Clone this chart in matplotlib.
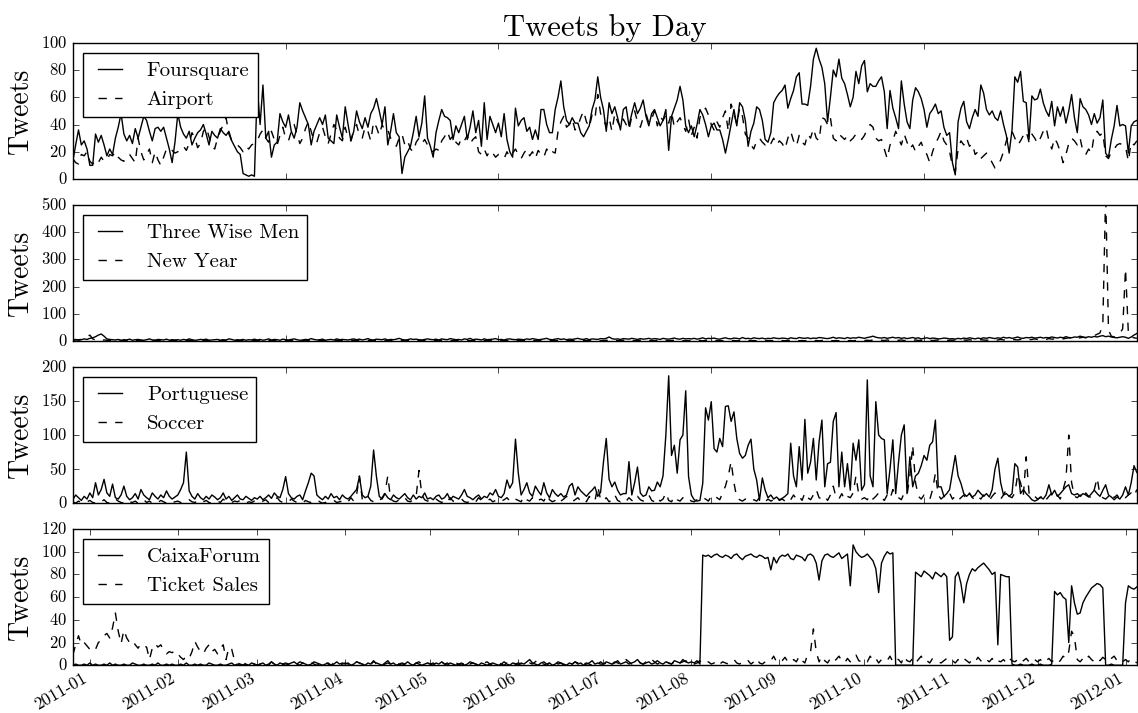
import numpy as np
import pandas as pd
import matplotlib
matplotlib.use("Agg")
import matplotlib.pyplot as plt
import matplotlib.dates as mdates

# daily counts from 2010-12-26 to 2012-01-05, one row per month
start_day = "2010-12-26"

foursquare = [
    13, 25, 36, 25, 28, 22,
    10, 10, 33, 27, 32, 25, 17, 22, 18, 30, 38, 48, 33, 28, 32, 26, 37, 30, 38, 46, 43, 35, 28, 37, 38, 35, 38, 30, 22, 12, 27,
    48, 38, 33, 30, 35, 25, 30, 34, 36, 40, 33, 25, 35, 32, 30, 37, 34, 32, 35, 28, 24, 20, 18, 4, 3, 2, 3, 2,
    67, 40, 69, 30, 35, 16, 25, 27, 48, 42, 38, 47, 35, 30, 38, 56, 50, 45, 40, 25, 35, 40, 45, 40, 47, 30, 28, 26, 47, 38, 30,
    53, 40, 28, 35, 50, 42, 37, 45, 38, 48, 52, 59, 50, 40, 53, 25, 35, 48, 34, 31, 4, 16, 20, 24, 34, 46, 31, 41, 61, 30,
    24, 16, 34, 43, 51, 46, 45, 43, 29, 39, 34, 40, 46, 29, 38, 50, 34, 43, 24, 56, 29, 46, 40, 34, 41, 31, 48, 29, 20, 16, 52,
    39, 43, 45, 35, 38, 29, 36, 29, 51, 51, 40, 34, 34, 51, 60, 72, 53, 43, 40, 45, 41, 41, 34, 31, 35, 39, 51, 58, 75, 60,
    51, 35, 56, 48, 53, 45, 36, 51, 53, 39, 48, 56, 48, 52, 58, 46, 39, 48, 51, 45, 39, 43, 51, 21, 46, 52, 58, 68, 58, 39, 34,
    39, 31, 40, 51, 47, 40, 31, 39, 41, 36, 36, 29, 19, 29, 40, 51, 39, 56, 53, 43, 24, 35, 41, 53, 51, 43, 29, 27, 34, 56, 60,
    63, 65, 69, 52, 59, 65, 75, 78, 55, 55, 54, 68, 88, 96, 88, 82, 70, 42, 60, 80, 75, 88, 74, 70, 62, 53, 60, 79, 70, 83,
    87, 64, 70, 68, 68, 72, 75, 64, 37, 65, 52, 45, 37, 72, 55, 42, 37, 58, 67, 64, 59, 51, 38, 48, 51, 55, 48, 50, 38, 32, 34,
    12, 3, 42, 52, 57, 42, 37, 45, 51, 46, 69, 63, 51, 47, 50, 45, 43, 50, 40, 32, 19, 36, 75, 71, 79, 57, 56, 29, 61, 58,
    59, 66, 56, 50, 46, 57, 39, 53, 46, 53, 41, 50, 62, 45, 34, 59, 53, 51, 47, 40, 48, 41, 45, 58, 19, 16, 29, 39, 54, 39, 40,
    39, 19, 39, 42, 43,
]

airport = [
    15, 12, 11, 18, 17, 20,
    13, 11, 14, 12, 16, 13, 14, 18, 17, 20, 16, 14, 13, 17, 18, 15, 12, 30, 20, 14, 18, 22, 12, 20, 14, 10, 16, 22, 20, 21, 19,
    20, 22, 24, 21, 26, 34, 30, 23, 26, 35, 38, 31, 24, 22, 30, 35, 40, 45, 33, 28, 27, 25, 23, 20, 24, 22, 25, 26,
    28, 33, 36, 30, 27, 35, 29, 25, 32, 38, 30, 28, 35, 40, 33, 26, 30, 37, 42, 35, 28, 27, 34, 38, 31, 26, 33, 40, 36, 30, 28,
    38, 30, 28, 36, 40, 32, 30, 38, 35, 28, 42, 38, 32, 40, 35, 36, 30, 27, 24, 30, 33, 25, 28, 22, 20, 27, 30, 26, 29, 25,
    21, 20, 22, 21, 28, 31, 35, 29, 32, 27, 25, 30, 28, 32, 26, 29, 31, 20, 18, 22, 17, 21, 19, 16, 18, 17, 15, 20, 16, 19, 22,
    18, 15, 19, 22, 17, 20, 15, 21, 18, 16, 22, 18, 20, 19, 35, 42, 46, 38, 40, 44, 36, 39, 45, 50, 42, 38, 47, 44, 62, 48,
    43, 39, 45, 35, 48, 42, 38, 44, 40, 36, 46, 50, 42, 38, 45, 48, 41, 44, 50, 39, 46, 43, 47, 41, 49, 38, 42, 45, 40, 35, 44,
    32, 38, 30, 45, 50, 52, 47, 40, 36, 42, 38, 45, 50, 35, 55, 48, 40, 52, 46, 33, 30, 25, 22, 28, 30, 27, 25, 28, 26, 30, 25,
    28, 26, 22, 30, 35, 28, 24, 32, 27, 25, 33, 30, 37, 30, 28, 45, 44, 40, 45, 30, 28, 33, 31, 29, 32, 28, 30, 33, 31, 29,
    32, 37, 40, 38, 30, 28, 29, 22, 15, 25, 28, 35, 30, 25, 33, 27, 22, 25, 20, 24, 27, 21, 18, 12, 20, 26, 30, 35, 28, 25, 20,
    10, 5, 22, 28, 25, 30, 24, 26, 18, 20, 15, 17, 19, 16, 12, 8, 10, 14, 20, 28, 33, 35, 30, 25, 28, 32, 35, 27, 33, 30,
    26, 30, 35, 38, 28, 22, 30, 26, 20, 12, 18, 26, 30, 28, 25, 30, 20, 18, 22, 19, 33, 35, 32, 34, 17, 15, 20, 22, 25, 26, 25,
    24, 13, 27, 25, 28,
]

wise_men = [
    4, 6, 3, 5, 8, 6,
    10, 12, 16, 22, 26, 18, 8, 6, 5, 4, 6, 3, 5, 4, 7, 3, 5, 6, 4, 3, 5, 8, 4, 3, 6, 5, 4, 7, 3, 5, 4,
    5, 3, 6, 4, 8, 5, 3, 4, 6, 5, 7, 3, 4, 5, 6, 3, 5, 4, 8, 6, 3, 5, 4, 6, 3, 5, 4, 7,
    4, 6, 3, 5, 8, 4, 6, 5, 3, 7, 5, 4, 6, 8, 5, 3, 4, 6, 5, 9, 6, 4, 5, 7, 3, 5, 6, 4, 8, 5, 6,
    5, 4, 6, 8, 5, 7, 4, 6, 9, 5, 4, 7, 6, 5, 8, 4, 6, 5, 7, 10, 6, 4, 5, 8, 6, 7, 5, 4, 6, 8,
    6, 5, 7, 4, 8, 6, 5, 9, 7, 5, 6, 4, 8, 6, 10, 5, 7, 6, 4, 8, 5, 6, 7, 9, 5, 6, 4, 7, 8, 6, 5,
    7, 6, 5, 8, 6, 9, 7, 5, 6, 8, 10, 6, 5, 7, 9, 6, 8, 5, 7, 6, 8, 10, 7, 6, 9, 5, 8, 7, 6, 9,
    8, 10, 15, 9, 7, 8, 6, 9, 8, 7, 10, 8, 6, 9, 7, 8, 10, 7, 9, 8, 6, 10, 8, 7, 9, 11, 8, 7, 10, 8, 9,
    8, 10, 7, 9, 12, 8, 10, 9, 11, 8, 7, 10, 12, 9, 8, 11, 10, 8, 13, 9, 10, 8, 12, 10, 9, 11, 8, 10, 9, 12, 10,
    9, 11, 10, 8, 12, 10, 9, 13, 11, 10, 12, 9, 11, 10, 13, 12, 10, 9, 11, 14, 10, 12, 11, 9, 13, 10, 12, 11, 14, 12,
    10, 13, 15, 18, 14, 12, 11, 13, 10, 12, 14, 11, 13, 10, 12, 9, 11, 13, 10, 12, 8, 10, 12, 9, 11, 10, 8, 9, 11, 10, 8,
    9, 7, 10, 8, 11, 9, 12, 10, 8, 11, 9, 12, 10, 13, 11, 9, 12, 10, 14, 11, 13, 10, 12, 15, 11, 10, 13, 12, 14, 11,
    12, 14, 11, 13, 12, 15, 13, 11, 14, 12, 16, 13, 12, 15, 14, 18, 15, 13, 16, 14, 17, 15, 18, 20, 16, 18, 15, 13, 12, 14, 16,
    14, 10, 15, 22, 28,
]

new_year = [
    3, 4, 5, 6, 10, 15,
    22, 8, 4, 3, 2, 4, 3, 2, 1, 3, 2, 1, 2, 3, 1, 2, 1, 3, 2, 1, 2, 1, 2, 3, 1, 2, 1, 2, 1, 3, 2,
    1, 2, 1, 2, 3, 1, 2, 1, 2, 1, 3, 2, 1, 2, 1, 2, 3, 1, 2, 1, 2, 1, 2, 3, 1, 2, 1, 2,
    1, 2, 3, 1, 2, 1, 2, 1, 3, 2, 1, 2, 1, 2, 1, 3, 2, 1, 2, 1, 2, 3, 1, 2, 1, 2, 1, 2, 3, 1, 2,
    1, 2, 1, 3, 2, 1, 2, 1, 2, 3, 1, 2, 1, 2, 1, 2, 3, 1, 2, 1, 2, 1, 3, 2, 1, 2, 1, 2, 1, 3,
    2, 1, 2, 1, 3, 2, 1, 2, 1, 2, 3, 1, 2, 1, 2, 1, 3, 2, 1, 2, 1, 2, 1, 3, 2, 1, 2, 1, 2, 3, 1,
    2, 1, 2, 1, 3, 2, 1, 2, 1, 2, 3, 1, 2, 1, 2, 1, 2, 3, 1, 2, 1, 2, 1, 3, 2, 1, 2, 1, 2, 1,
    2, 3, 1, 2, 1, 2, 1, 3, 2, 1, 2, 1, 2, 3, 1, 2, 1, 2, 1, 3, 2, 1, 2, 1, 2, 3, 1, 2, 1, 2, 1,
    3, 2, 1, 2, 1, 2, 3, 1, 2, 1, 2, 1, 3, 2, 1, 2, 1, 2, 3, 1, 2, 1, 2, 1, 3, 2, 1, 2, 1, 2, 3,
    1, 2, 1, 2, 3, 1, 2, 1, 2, 1, 3, 2, 1, 2, 1, 2, 3, 1, 2, 1, 2, 1, 3, 2, 1, 2, 1, 2, 3, 2,
    2, 3, 2, 4, 3, 2, 3, 2, 4, 2, 3, 2, 3, 4, 2, 3, 2, 3, 4, 2, 3, 2, 4, 3, 2, 3, 4, 2, 3, 2, 3,
    3, 4, 3, 2, 4, 3, 5, 3, 4, 3, 5, 4, 3, 4, 5, 3, 4, 6, 4, 5, 4, 6, 5, 4, 6, 5, 7, 5, 6, 8,
    6, 7, 8, 6, 9, 7, 8, 10, 9, 8, 10, 12, 9, 11, 10, 12, 14, 12, 15, 18, 20, 25, 30, 60, 540, 40, 18, 15, 20, 28, 45,
    265, 30, 15, 12, 10,
]

portuguese = [
    5, 12, 8, 4, 10, 6,
    15, 8, 30, 12, 20, 35, 15, 10, 28, 8, 6, 12, 25, 10, 5, 8, 14, 6, 20, 12, 8, 5, 15, 10, 6, 12, 8, 18, 10, 6, 9,
    12, 20, 30, 75, 18, 10, 6, 14, 8, 5, 10, 6, 12, 9, 5, 8, 15, 6, 10, 4, 8, 12, 6, 5, 10, 7, 4, 8,
    6, 10, 5, 8, 12, 7, 15, 10, 8, 20, 39, 14, 8, 6, 10, 12, 5, 18, 30, 44, 40, 12, 8, 5, 10, 6, 14, 8, 10, 5, 12,
    8, 6, 10, 15, 20, 39, 12, 8, 10, 25, 78, 39, 10, 6, 14, 8, 5, 12, 8, 6, 10, 14, 8, 5, 12, 6, 10, 8, 15, 6,
    8, 5, 10, 12, 6, 8, 14, 5, 10, 8, 6, 12, 20, 10, 8, 5, 9, 12, 6, 10, 8, 15, 12, 20, 10, 8, 14, 34, 22, 30, 94,
    44, 12, 20, 30, 15, 10, 25, 18, 12, 30, 15, 8, 20, 14, 10, 14, 9, 12, 25, 29, 12, 24, 18, 14, 10, 15, 19, 24, 10, 16,
    60, 95, 35, 24, 31, 19, 12, 14, 14, 61, 12, 30, 53, 15, 10, 12, 24, 18, 19, 31, 24, 40, 100, 187, 70, 85, 44, 93, 100, 165, 39,
    12, 5, 3, 4, 29, 140, 122, 149, 80, 75, 95, 83, 142, 143, 120, 134, 95, 73, 66, 70, 85, 94, 50, 34, 4, 37, 19, 8, 12, 6, 9,
    5, 7, 10, 14, 88, 40, 24, 83, 34, 123, 44, 60, 95, 34, 90, 122, 24, 58, 60, 120, 133, 24, 75, 24, 58, 19, 88, 63, 93, 19,
    27, 181, 40, 24, 149, 100, 95, 93, 14, 50, 93, 14, 60, 100, 115, 14, 68, 24, 40, 44, 55, 70, 63, 85, 90, 122, 24, 24, 10, 14, 20,
    45, 70, 40, 29, 14, 10, 14, 9, 12, 19, 14, 10, 14, 9, 20, 50, 66, 30, 12, 14, 10, 14, 58, 53, 14, 20, 14, 10, 5, 3,
    5, 9, 6, 12, 27, 12, 19, 10, 14, 19, 24, 27, 14, 12, 14, 10, 14, 12, 9, 14, 19, 14, 10, 19, 27, 12, 9, 5, 9, 6, 12,
    24, 12, 30, 55, 45,
]

soccer = [
    2, 0, 3, 1, 0, 2,
    4, 1, 0, 3, 2, 5, 1, 0, 2, 6, 3, 1, 0, 4, 2, 1, 3, 0, 2, 5, 1, 3, 0, 2, 1, 4, 2, 0, 3, 1, 2,
    3, 1, 0, 2, 5, 2, 1, 3, 0, 2, 4, 1, 0, 2, 3, 1, 6, 2, 0, 1, 3, 2, 4, 1, 0, 2, 1, 3,
    2, 0, 3, 5, 1, 2, 4, 8, 3, 1, 0, 2, 6, 3, 1, 2, 0, 4, 2, 1, 3, 5, 2, 0, 1, 3, 2, 4, 1, 2, 3,
    5, 2, 8, 3, 12, 40, 6, 3, 10, 4, 2, 5, 3, 8, 15, 40, 6, 3, 2, 5, 4, 8, 3, 2, 6, 10, 48, 12, 5, 3,
    4, 2, 6, 3, 1, 5, 2, 8, 3, 2, 4, 6, 2, 1, 3, 5, 2, 8, 4, 2, 3, 6, 2, 4, 1, 3, 5, 8, 3, 2, 6,
    4, 2, 10, 5, 3, 8, 2, 4, 6, 3, 12, 5, 2, 4, 8, 3, 6, 10, 4, 2, 5, 8, 3, 6, 2, 10, 4, 3, 25, 5,
    3, 8, 2, 5, 12, 4, 2, 6, 3, 8, 4, 2, 10, 5, 3, 6, 12, 4, 2, 8, 3, 6, 15, 4, 2, 10, 5, 3, 8, 4, 6,
    3, 2, 5, 4, 8, 6, 3, 10, 12, 8, 5, 15, 25, 40, 61, 30, 8, 5, 3, 6, 4, 2, 5, 3, 8, 4, 2, 6, 3, 5, 10,
    4, 6, 3, 8, 5, 12, 6, 10, 4, 15, 8, 5, 12, 20, 8, 6, 10, 4, 12, 25, 8, 6, 14, 5, 10, 8, 15, 40, 12, 6,
    8, 5, 12, 6, 10, 15, 8, 4, 12, 6, 20, 10, 8, 5, 15, 12, 40, 85, 30, 10, 6, 12, 8, 5, 20, 44, 12, 6, 10, 8, 15,
    6, 10, 4, 8, 12, 6, 15, 8, 5, 10, 6, 12, 8, 4, 10, 15, 8, 6, 12, 20, 10, 8, 15, 42, 30, 12, 68, 15, 8, 10,
    6, 8, 12, 5, 10, 15, 8, 12, 6, 20, 35, 100, 30, 10, 8, 12, 6, 15, 10, 8, 20, 37, 12, 8, 6, 10, 15, 8, 12, 6, 10,
    8, 12, 15, 10, 20,
]

caixaforum = [
    0, 1, 0, 0, 1, 0,
    2, 0, 1, 0, 0, 1, 0, 2, 0, 1, 0, 0, 1, 0, 0, 2, 1, 0, 0, 1, 0, 0, 1, 0, 2, 0, 0, 1, 0, 1, 0,
    0, 1, 0, 2, 0, 0, 1, 0, 1, 0, 0, 2, 1, 0, 0, 1, 0, 0, 1, 2, 0, 1, 0, 0, 1, 0, 2, 1,
    0, 1, 2, 0, 1, 3, 1, 0, 2, 1, 0, 1, 2, 3, 1, 0, 2, 1, 0, 1, 3, 2, 1, 0, 1, 2, 0, 1, 3, 1, 2,
    1, 2, 0, 1, 3, 2, 1, 0, 2, 1, 3, 2, 1, 0, 2, 4, 1, 2, 0, 1, 2, 1, 3, 1, 0, 2, 1, 0, 1, 2,
    1, 0, 2, 1, 3, 1, 0, 2, 1, 0, 1, 2, 0, 1, 3, 2, 1, 0, 2, 1, 0, 1, 2, 1, 0, 1, 3, 1, 0, 2, 1,
    0, 2, 1, 3, 5, 2, 1, 0, 2, 3, 1, 2, 0, 1, 3, 2, 1, 0, 2, 1, 3, 1, 2, 0, 1, 2, 4, 1, 2, 1,
    1, 3, 2, 1, 2, 4, 1, 2, 3, 1, 2, 3, 5, 2, 1, 2, 3, 1, 2, 4, 2, 1, 3, 2, 1, 4, 3, 2, 5, 3, 2,
    3, 2, 4, 1, 97, 96, 97, 95, 97, 98, 96, 95, 97, 96, 94, 97, 98, 95, 93, 96, 97, 98, 96, 95, 97, 96, 94, 95, 84, 95, 90,
    95, 97, 96, 98, 94, 93, 97, 96, 95, 92, 97, 98, 96, 90, 75, 92, 97, 98, 96, 95, 97, 99, 94, 96, 98, 70, 106, 100, 97, 95,
    96, 98, 95, 92, 85, 64, 90, 96, 100, 98, 99, 0, 0, 0, 0, 0, 0, 0, 82, 80, 78, 83, 81, 79, 76, 82, 80, 78, 81, 78, 22,
    25, 78, 82, 72, 55, 72, 80, 85, 83, 86, 88, 90, 87, 84, 80, 82, 18, 80, 79, 78, 78, 1, 0, 0, 1, 0, 0, 0, 1, 0,
    0, 1, 0, 0, 0, 1, 65, 62, 64, 60, 58, 20, 70, 55, 45, 46, 55, 60, 64, 68, 70, 72, 71, 68, 0, 0, 1, 0, 0, 0, 0,
    55, 70, 68, 67, 69,
]

ticket_sales = [
    9, 18, 26, 18, 20, 17,
    14, 12, 14, 20, 22, 26, 28, 24, 33, 46, 30, 19, 31, 24, 20, 22, 18, 15, 19, 17, 16, 5, 15, 19, 16, 18, 13, 10, 12, 11, 13,
    10, 7, 5, 8, 6, 12, 21, 16, 12, 10, 15, 18, 12, 14, 10, 15, 18, 5, 16, 14, 4, 2, 1, 0, 2, 1, 0, 1,
    0, 1, 2, 1, 0, 3, 1, 2, 0, 1, 2, 1, 0, 2, 1, 3, 2, 1, 0, 2, 1, 0, 1, 2, 3, 1, 0, 2, 1, 0, 1,
    2, 1, 0, 1, 3, 2, 1, 0, 2, 1, 4, 1, 2, 0, 1, 2, 1, 3, 2, 1, 0, 1, 2, 1, 0, 2, 3, 1, 0, 2,
    1, 2, 0, 1, 3, 1, 2, 0, 1, 2, 1, 0, 2, 4, 1, 2, 1, 0, 1, 2, 3, 1, 0, 1, 2, 1, 0, 2, 1, 3, 1,
    2, 1, 0, 1, 2, 1, 3, 5, 2, 1, 0, 2, 1, 3, 1, 2, 0, 1, 2, 1, 3, 2, 4, 1, 2, 1, 0, 2, 1, 3,
    1, 2, 4, 1, 3, 2, 1, 2, 5, 3, 1, 2, 4, 2, 1, 3, 2, 5, 3, 1, 2, 4, 3, 2, 1, 3, 5, 2, 3, 4, 2,
    3, 1, 2, 4, 1, 2, 3, 1, 2, 4, 1, 3, 2, 1, 3, 5, 2, 1, 3, 2, 4, 1, 3, 6, 2, 1, 3, 2, 4, 8, 3,
    2, 4, 7, 3, 2, 5, 3, 8, 4, 2, 10, 12, 32, 12, 3, 8, 4, 2, 6, 3, 5, 8, 4, 2, 6, 3, 7, 9, 4, 3,
    5, 3, 8, 4, 6, 2, 5, 3, 4, 8, 3, 6, 5, 2, 8, 4, 3, 6, 2, 5, 8, 3, 4, 2, 6, 5, 3, 2, 4, 6, 3,
    4, 2, 5, 3, 6, 4, 2, 5, 3, 7, 4, 2, 5, 3, 6, 2, 4, 3, 5, 2, 6, 4, 3, 5, 2, 4, 6, 3, 2, 5,
    3, 5, 2, 4, 6, 3, 5, 2, 4, 8, 6, 12, 30, 25, 5, 3, 6, 4, 8, 5, 3, 6, 4, 7, 5, 3, 6, 8, 4, 2, 3,
    5, 3, 6, 4, 2,
]

panels = [
    (foursquare, airport, "Foursquare", "Airport", 100, 20),
    (wise_men, new_year, "Three Wise Men", "New Year", 500, 100),
    (portuguese, soccer, "Portuguese", "Soccer", 200, 50),
    (caixaforum, ticket_sales, "CaixaForum", "Ticket Sales", 120, 20),
]

plt.style.use("classic")
plt.rcParams["font.family"] = "serif"
plt.rcParams["font.serif"] = ["cmr10"]
plt.rcParams["mathtext.fontset"] = "cm"
plt.rcParams["axes.formatter.use_mathtext"] = True
plt.rcParams["figure.facecolor"] = "white"
plt.rcParams["savefig.facecolor"] = "white"

days = pd.date_range(start_day, periods=len(foursquare), freq="D")

fig, axes = plt.subplots(4, 1, figsize=(11.38, 7.13), dpi=100)
fig.subplots_adjust(left=0.064, right=0.999, top=0.94, bottom=0.067, hspace=0.19)

lo = mdates.date2num(days[0])
hi = mdates.date2num(days[-1])

for ax, (solid, dashed, lab1, lab2, ymax, ystep) in zip(axes, panels):
    ax.plot(days, solid, "k-", lw=1.0, label=lab1)
    ax.plot(days, dashed, "k--", lw=1.0, label=lab2)
    ax.set_xlim(lo, hi)
    ax.set_ylim(0, ymax)
    ax.set_yticks(np.arange(0, ymax + 1, ystep))
    ax.tick_params(axis="y", labelsize=12)
    ax.set_ylabel("Tweets", fontsize=20)
    ax.legend(loc="upper left", fontsize=15, handlelength=1.75,
              handletextpad=0.9, borderaxespad=0.5)

# upper panels: plain unlabeled ticks
for ax in axes[:-1]:
    ax.set_xticks(np.linspace(lo, hi, 6))
    ax.set_xticklabels([])

bottom = axes[-1]
bottom.xaxis.set_major_locator(mdates.MonthLocator())
bottom.xaxis.set_major_formatter(mdates.DateFormatter("%Y-%m"))
for lbl in bottom.get_xticklabels():
    lbl.set_rotation(30)
    lbl.set_ha("right")
    lbl.set_fontsize(12.5)

axes[0].set_title("Tweets by Day", fontsize=22)

fig.savefig("out.png", dpi=100)
